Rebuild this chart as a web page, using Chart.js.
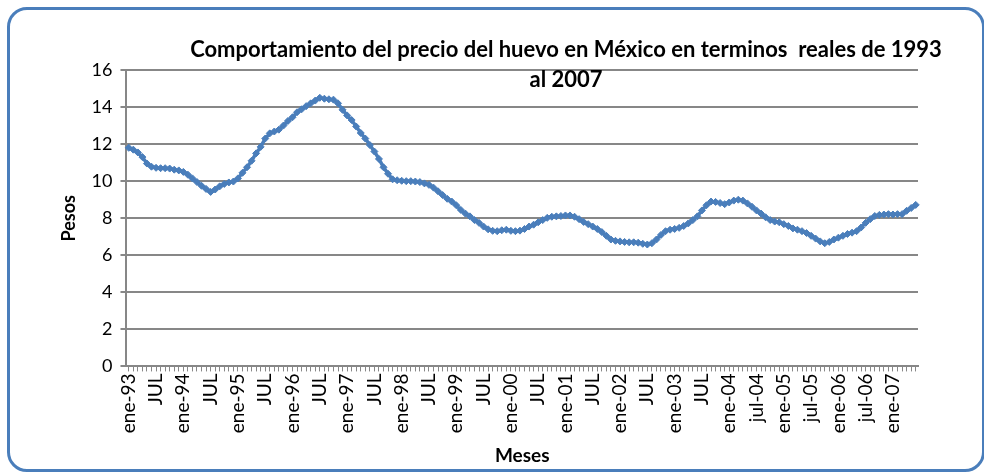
<!doctype html>
<html lang="es">

<head>
  <meta charset="utf-8">
  <script src="https://cdn.jsdelivr.net/npm/chart.js@4.4.1/dist/chart.umd.min.js"></script>
  <title>Precio del huevo en México</title>
  <style>
    body { margin: 0; background: #fff; }
    #marco {
      position: absolute; left: 7px; top: 7px; width: 972px; height: 459px;
      border: 3px solid #4a7ebb; border-radius: 20px;
    }
    #myChart { position: absolute; left: 0; top: 0; }
  </style>
</head>

<body>
  <div id="marco"></div>
  <canvas id="myChart" width="984" height="475"></canvas>
  <script>
    // precios reales mensuales (pesos), ene-93 a jun-07
    const p1993 = [11.8, 11.7, 11.55, 11.3, 10.95, 10.78, 10.72, 10.7, 10.7, 10.68, 10.62, 10.58];
    const p1994 = [10.5, 10.35, 10.15, 9.95, 9.75, 9.58, 9.42, 9.55, 9.72, 9.85, 9.93, 9.98];
    const p1995 = [10.15, 10.45, 10.75, 11.1, 11.5, 11.85, 12.3, 12.58, 12.68, 12.78, 13.0, 13.25];
    const p1996 = [13.45, 13.72, 13.88, 14.05, 14.2, 14.35, 14.5, 14.45, 14.42, 14.4, 14.2, 13.85];
    const p1997 = [13.55, 13.3, 12.95, 12.6, 12.3, 11.95, 11.6, 11.2, 10.75, 10.4, 10.1, 10.05];
    const p1998 = [10.02, 10.0, 10.0, 9.98, 9.95, 9.88, 9.8, 9.65, 9.45, 9.25, 9.05, 8.9];
    const p1999 = [8.7, 8.45, 8.25, 8.1, 7.9, 7.75, 7.55, 7.4, 7.32, 7.3, 7.35, 7.38];
    const p2000 = [7.32, 7.3, 7.33, 7.42, 7.55, 7.65, 7.78, 7.9, 8.02, 8.08, 8.1, 8.12];
    const p2001 = [8.15, 8.15, 8.08, 7.95, 7.8, 7.68, 7.55, 7.42, 7.25, 7.05, 6.85, 6.78];
    const p2002 = [6.75, 6.72, 6.7, 6.7, 6.68, 6.62, 6.58, 6.65, 6.85, 7.1, 7.3, 7.38];
    const p2003 = [7.42, 7.48, 7.58, 7.72, 7.9, 8.1, 8.42, 8.7, 8.9, 8.88, 8.82, 8.76];
    const p2004 = [8.85, 8.95, 9.0, 8.95, 8.8, 8.62, 8.42, 8.25, 8.05, 7.9, 7.82, 7.78];
    const p2005 = [7.68, 7.58, 7.45, 7.38, 7.3, 7.2, 7.05, 6.9, 6.75, 6.65, 6.72, 6.85];
    const p2006 = [6.95, 7.05, 7.15, 7.22, 7.3, 7.5, 7.75, 7.95, 8.12, 8.18, 8.2, 8.22];
    const p2007 = [8.2, 8.22, 8.22, 8.4, 8.55, 8.72];

    const precios = [].concat(p1993, p1994, p1995, p1996, p1997, p1998, p1999, p2000,
      p2001, p2002, p2003, p2004, p2005, p2006, p2007);

    // etiquetas visibles, una cada 6 meses
    const tickLabels = ['ene-93', 'JUL', 'ene-94', 'JUL', 'ene-95', 'JUL', 'ene-96', 'JUL',
      'ene-97', 'JUL', 'ene-98', 'JUL', 'ene-99', 'JUL', 'ene-00', 'JUL', 'ene-01', 'JUL',
      'ene-02', 'JUL', 'ene-03', 'JUL', 'ene-04', 'jul-04', 'ene-05', 'jul-05', 'ene-06',
      'jul-06', 'ene-07'];

    const meses = ['ene', 'feb', 'mar', 'abr', 'may', 'jun', 'jul', 'ago', 'sep', 'oct', 'nov', 'dic'];
    const categorias = precios.map((v, i) => meses[i % 12] + '-' + String(93 + Math.floor(i / 12)).slice(-2).padStart(2, '0'));

    const tituloLineas = ['Comportamiento del precio del huevo en México en terminos  reales de 1993', 'al 2007'];

    const tituloPlugin = {
      id: 'tituloPlugin',
      afterDraw(chart) {
        const ctx = chart.ctx;
        ctx.save();
        ctx.font = 'bold 22px Lato';
        ctx.fillStyle = '#000';
        ctx.textAlign = 'center';
        ctx.textBaseline = 'middle';
        ctx.fillText(tituloLineas[0], 566, 50);
        ctx.fillText(tituloLineas[1], 566, 80);
        ctx.restore();
      }
    };

    const gris = '#878787';
    const config = {
      type: 'line',
      data: {
        labels: categorias,
        datasets: [{
          label: 'Pesos',
          data: precios,
          borderColor: '#4a7ebb',
          backgroundColor: '#4a7ebb',
          borderWidth: 3.5,
          pointStyle: 'rectRot',
          pointRadius: 3.5,
          pointBorderWidth: 1,
          tension: 0
        }]
      },
      options: {
        responsive: false,
        animation: false,
        layout: { padding: { left: 54, right: 66, top: 70, bottom: 8 } },
        plugins: {
          legend: { display: false },
          tooltip: { enabled: false }
        },
        scales: {
          x: {
            offset: true,
            grid: { drawOnChartArea: false, color: gris, tickLength: 5 },
            border: { color: gris, width: 2 },
            ticks: {
              autoSkip: false, maxRotation: 90, minRotation: 90,
              color: '#000', padding: 2,
              font: { family: 'Lato', size: 19 },
              callback: (v, i) => (i % 6 === 0 ? tickLabels[i / 6] : '')
            },
            title: {
              display: true, text: 'Meses', color: '#000', padding: { top: 9, bottom: 0 },
              font: { family: 'Lato', size: 19, weight: 'bold' }
            }
          },
          y: {
            min: 0, max: 16,
            grid: { color: gris, lineWidth: 2, tickLength: 6 },
            border: { color: gris, width: 2 },
            ticks: {
              stepSize: 2, color: '#000', padding: 8,
              font: { family: 'Lato', size: 18 }
            },
            title: {
              display: true, text: 'Pesos', color: '#000', padding: 4,
              font: { family: 'Lato', size: 18, weight: 'bold' }
            }
          }
        }
      },
      plugins: [tituloPlugin]
    };

    const ctx = document.getElementById('myChart').getContext('2d');
    const myChart = new Chart(ctx, config);
  </script>
</body>

</html>
